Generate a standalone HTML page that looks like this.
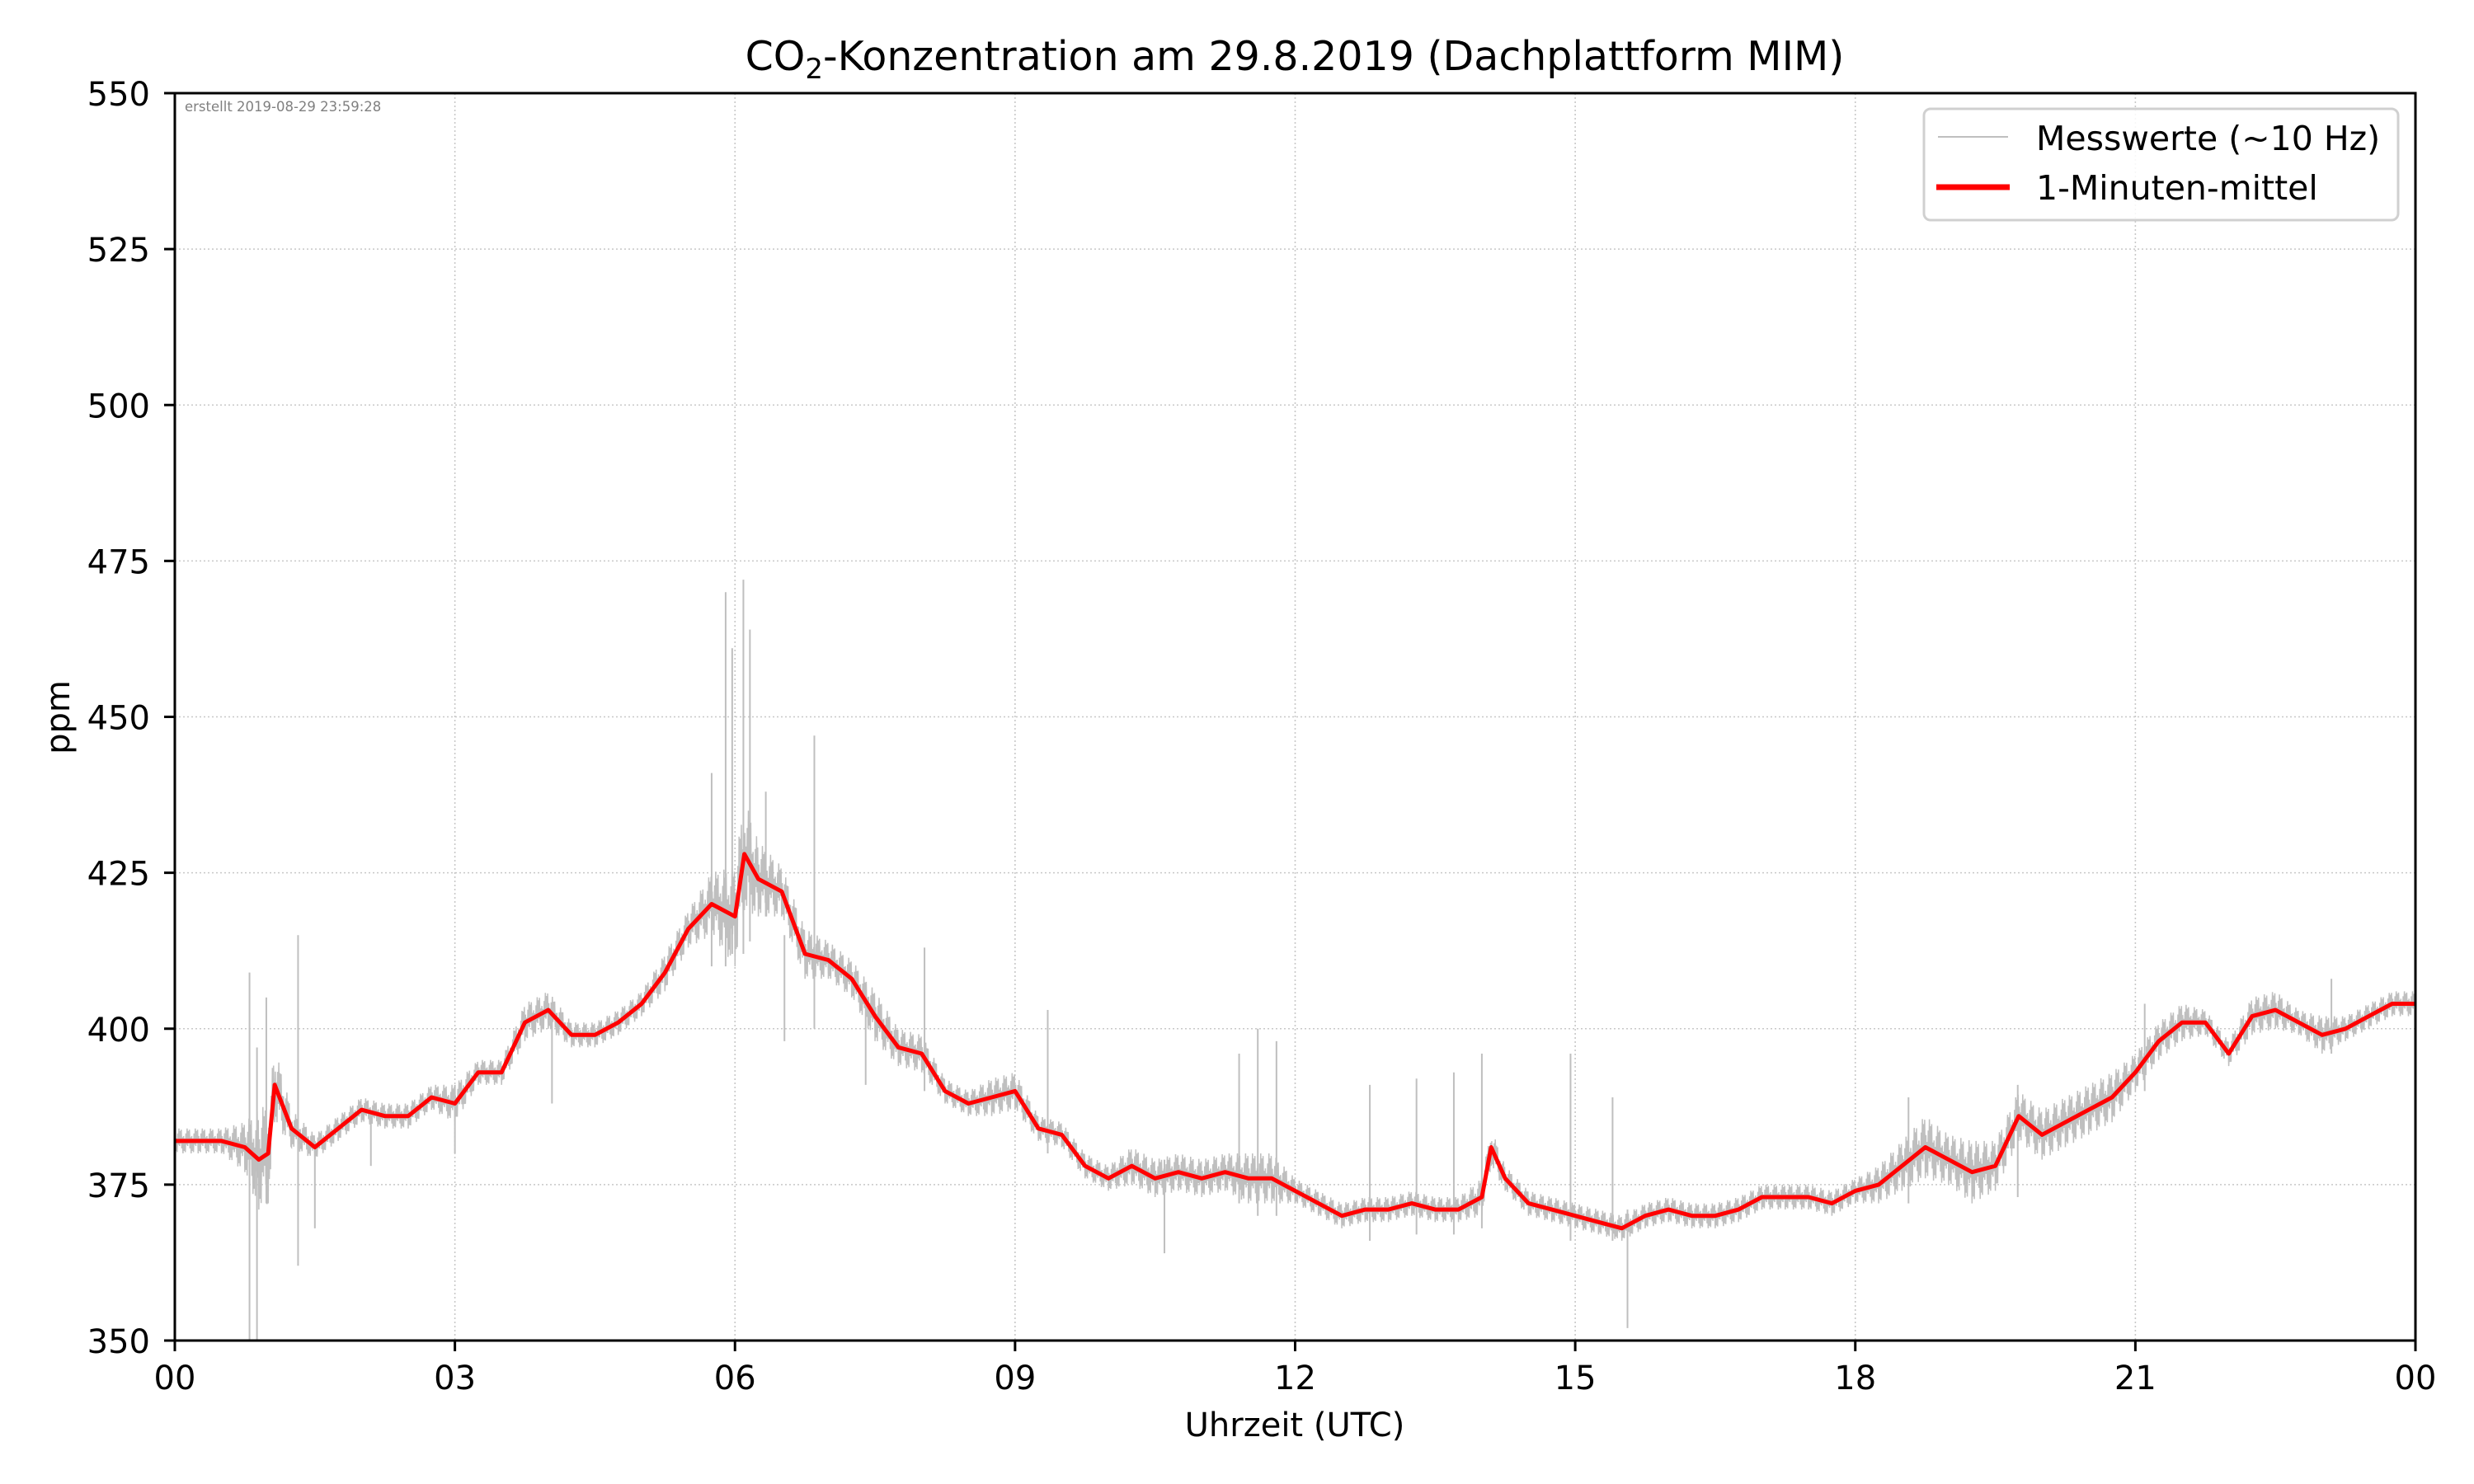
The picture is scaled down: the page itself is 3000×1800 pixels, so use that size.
<!DOCTYPE html>
<html><head><meta charset="utf-8"><style>
html,body{margin:0;padding:0;background:#fff;}
svg{display:block;font-family:"DejaVu Sans","Liberation Sans",sans-serif;}
</style></head><body>
<svg id="chart" width="3000" height="1800" viewBox="0 0 3000 1800" xmlns="http://www.w3.org/2000/svg">
<rect width="3000" height="1800" fill="#fff"/>
<g id="grid"></g>
<g id="raw"></g>
<g id="mean"></g>
<rect x="212" y="113" width="2717" height="1513" fill="none" stroke="#000" stroke-width="3"/>
<g id="ticks"></g>
<text x="224" y="135" font-size="16.5" fill="#808080">erstellt 2019-08-29 23:59:28</text>
<text x="1570" y="85" font-size="49" text-anchor="middle">CO<tspan font-size="34" dy="10">2</tspan><tspan dy="-10">-Konzentration am 29.8.2019 (Dachplattform MIM)</tspan></text>
<text x="1570" y="1742" font-size="40" text-anchor="middle">Uhrzeit (UTC)</text>
<text x="0" y="0" font-size="40" text-anchor="middle" transform="translate(84,870) rotate(-90)">ppm</text>
<g>
<rect x="2333" y="132" width="575" height="135" rx="8" fill="#fff" fill-opacity="0.85" stroke="#d0d0d0" stroke-width="3"/>
<line x1="2350" y1="166" x2="2435" y2="166" stroke="#bfbfbf" stroke-width="2"/>
<text x="2469" y="182" font-size="41">Messwerte (~10 Hz)</text>
<line x1="2348" y1="227" x2="2437" y2="227" stroke="#ff0000" stroke-width="7"/>
<text x="2469" y="242" font-size="41">1-Minuten-mittel</text>
</g>
</svg>
<script>
const hours = [0,0.25,0.5,0.75,0.9,1.0,1.07,1.25,1.5,1.75,2.0,2.25,2.5,2.75,3.0,3.25,3.5,3.75,4.0,4.25,4.5,4.75,5.0,5.25,5.5,5.75,6.0,6.1,6.25,6.5,6.75,7.0,7.25,7.5,7.75,8.0,8.25,8.5,8.75,9.0,9.25,9.5,9.75,10.0,10.25,10.5,10.75,11.0,11.25,11.5,11.75,12.0,12.25,12.5,12.75,13.0,13.25,13.5,13.75,14.0,14.1,14.25,14.5,14.75,15.0,15.25,15.5,15.75,16.0,16.25,16.5,16.75,17.0,17.25,17.5,17.75,18.0,18.25,18.5,18.75,19.0,19.25,19.5,19.75,20.0,20.25,20.5,20.75,21.0,21.25,21.5,21.75,22.0,22.25,22.5,22.75,23.0,23.25,23.5,23.75,24.0];
const meanPpm = [382,382,382,381,379,380,391,384,381,384,387,386,386,389,388,393,393,401,403,399,399,401,404,409,416,420,418,428,424,422,412,411,408,402,397,396,390,388,389,390,384,383,378,376,378,376,377,376,377,376,376,374,372,370,371,371,372,371,371,373,381,376,372,371,370,369,368,370,371,370,370,371,373,373,373,372,374,375,378,381,379,377,378,386,383,385,387,389,393,398,401,401,396,402,403,401,399,400,402,404,404];
const rawSpread = [2,2,2,4,8,8,6,3,2,2,2,2,2,2,3,2,2,3,3,2,2,2,2,3,3,5,8,9,6,4,4,3,3,4,3,3,2,2,3,3,2,2,2,2,3,3,3,3,3,4,4,2,2,2,2,2,2,2,2,3,3,2,2,2,2,2,2,2,2,2,2,2,2,2,2,2,2,3,4,5,4,5,4,4,4,4,4,4,3,3,3,2,2,3,3,2,3,2,2,2,2];
const spikeHours = [0.8,0.88,0.98,1.32,1.5,2.1,3.0,4.04,5.75,5.9,5.97,6.09,6.16,6.33,6.53,6.85,7.4,8.03,9.35,10.6,11.4,11.6,11.8,12.8,13.3,13.7,14.0,14.95,15.4,15.56,18.57,19.74,21.1,23.1];
const spikeHigh = [409,397,405,415,382,386,391,404,441,470,461,472,464,438,415,447,404,413,403,379,396,400,398,391,392,393,396,396,389,371,389,391,404,408];
const spikeLow = [350,350,372,362,368,378,380,388,410,410,412,412,414,418,398,400,391,390,380,364,372,370,370,366,367,367,368,366,366,352,372,373,390,396];
const yTicks = [350,375,400,425,450,475,500,525,550];
const xTickHours = [0,3,6,9,12,15,18,21,24];
const xTickLabels = ["00","03","06","09","12","15","18","21","00"];

const X0=212,X1=2929,Y0=1626,Y1=113;
const xs = h => X0+(X1-X0)*h/24;
const ys = v => Y0-(Y0-Y1)*(v-350)/200;
const NS="http://www.w3.org/2000/svg";
function mk(tag,parent){const e=document.createElementNS(NS,tag);parent.appendChild(e);return e;}

const grid=document.getElementById('grid'), ticks=document.getElementById('ticks');
yTicks.forEach(v=>{
  const y=ys(v);
  if(v>350&&v<550){const g=mk('line',grid);
    
    
    g.setAttribute('x1',X0);g.setAttribute('x2',X1);g.setAttribute('y1',y);g.setAttribute('y2',y);
    g.setAttribute('stroke','#c8c8c8');g.setAttribute('stroke-width','1.6');g.setAttribute('stroke-dasharray','2 3');}
  const t=mk('line',ticks);
  
  
  t.setAttribute('x1',X0-13);t.setAttribute('x2',X0);t.setAttribute('y1',y);t.setAttribute('y2',y);t.setAttribute('stroke','#000');t.setAttribute('stroke-width','3');
  const l=mk('text',ticks);
  
  
  l.setAttribute('x',X0-30);l.setAttribute('y',y+15);l.setAttribute('font-size','40');l.setAttribute('text-anchor','end');l.textContent=v;
});
xTickHours.forEach((h,i)=>{
  const x=xs(h);
  if(h>0&&h<24){const g=mk('line',grid);
    
    
    g.setAttribute('x1',x);g.setAttribute('x2',x);g.setAttribute('y1',Y1);g.setAttribute('y2',Y0);
    g.setAttribute('stroke','#c8c8c8');g.setAttribute('stroke-width','1.6');g.setAttribute('stroke-dasharray','2 3');}
  const t=mk('line',ticks);
  
  
  t.setAttribute('x1',x);t.setAttribute('x2',x);t.setAttribute('y1',Y0);t.setAttribute('y2',Y0+13);t.setAttribute('stroke','#000');t.setAttribute('stroke-width','3');
  const l=mk('text',ticks);
  
  
  l.setAttribute('x',x);l.setAttribute('y',Y0+59);l.setAttribute('font-size','40');l.setAttribute('text-anchor','middle');l.textContent=xTickLabels[i];
});

// raw series: dense zigzag around the mean within the spread, plus spikes
const raw=document.getElementById('raw');
let d='';
for(let i=0;i<hours.length-1;i++){
  const n=Math.max(6,Math.round((hours[i+1]-hours[i])*160));
  for(let k=0;k<n;k++){
    const f=k/n, h=hours[i]+(hours[i+1]-hours[i])*f;
    const m=meanPpm[i]+(meanPpm[i+1]-meanPpm[i])*f;
    const s=rawSpread[i]+(rawSpread[i+1]-rawSpread[i])*f;
    const amp=[1,0.4,0.8,0.2,0.9,0.6,0.3][k%7];
    const v=m+(k%2?s:-s)*amp;
    d+=(d?'L':'M')+xs(h).toFixed(1)+' '+ys(v).toFixed(1);
  }
}
d+='L'+xs(24).toFixed(1)+' '+ys(meanPpm[meanPpm.length-1]).toFixed(1);
const rp=mk('path',raw);


rp.setAttribute('d',d);rp.setAttribute('fill','none');rp.setAttribute('stroke','#bfbfbf');rp.setAttribute('stroke-width','1.5');
spikeHours.forEach((h,i)=>{
  const s=mk('line',raw);
  
  
  s.setAttribute('x1',xs(h));s.setAttribute('x2',xs(h));s.setAttribute('y1',ys(spikeHigh[i]));s.setAttribute('y2',ys(spikeLow[i]));
  s.setAttribute('stroke','#bfbfbf');s.setAttribute('stroke-width','2');
});

const mean=document.getElementById('mean');
const mp=mk('polyline',mean);


mp.setAttribute('points',hours.map((h,i)=>xs(h).toFixed(1)+','+ys(meanPpm[i]).toFixed(1)).join(' '));
mp.setAttribute('fill','none');mp.setAttribute('stroke','#ff0000');mp.setAttribute('stroke-width','5');mp.setAttribute('stroke-linejoin','round');
</script>
</body></html>
